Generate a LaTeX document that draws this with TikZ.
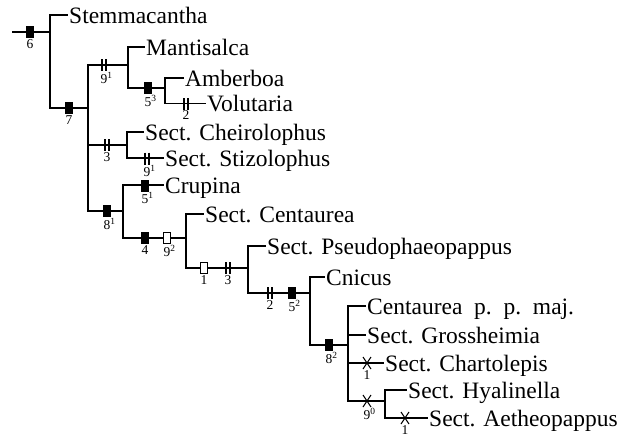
\documentclass[tikz,border=0pt]{standalone}
\usepackage{fontspec}
\setmainfont{Liberation Serif}
\begin{document}
\begin{tikzpicture}[x=1pt,y=-1pt,
  br/.style={line width=1.2pt},
  leaf/.style={anchor=west, inner sep=1pt, text height=16pt, text depth=0pt, font=\fontsize{23.5}{26}\selectfont},
  blk/.style={fill=black, minimum width=7.5pt, minimum height=12pt, inner sep=0pt},
  opn/.style={draw, fill=white, line width=0.9pt, minimum width=7pt, minimum height=11pt, inner sep=0pt},
  lbl/.style={anchor=north, inner sep=0pt, font=\fontsize{13.5}{13.5}\selectfont},
  dtick/.pic={\draw[line width=1.3pt] (-1.9,-6)--(-1.9,6) (1.9,-6)--(1.9,6);},
  xmark/.pic={\draw[line width=1pt] (-4,-6)--(4,6) (-4,6)--(4,-6);}
]
\useasboundingbox (0,0) rectangle (618,440);
% internal nodes
\coordinate (root) at (12,32);
\coordinate (n6) at (50,32);
\coordinate (n7) at (88,108);
\coordinate (n9a) at (128,65);
\coordinate (n53) at (165,88);
\coordinate (nch) at (127,145);
\coordinate (n8) at (123,211);
\coordinate (n492) at (186,238);
\coordinate (n13) at (248,268);
\coordinate (n52) at (310,293);
\coordinate (n82) at (348,345);
\coordinate (n90) at (385,401);
% leaves
\node[leaf] (stem) at (68,15) {Stemmacantha};
\node[leaf] (mant) at (145,47) {Mantisalca};
\node[leaf] (ambe) at (184,78) {Amberboa};
\node[leaf] (volu) at (206,103.5) {Volutaria};
\node[leaf] (chei) at (144,132) {Sect. Cheirolophus};
\node[leaf] (stiz) at (164,158) {Sect. Stizolophus};
\node[leaf] (crup) at (164,185) {Crupina};
\node[leaf] (cent) at (204,214) {Sect. Centaurea};
\node[leaf] (pseu) at (266,246) {Sect. Pseudophaeopappus};
\node[leaf] (cnic) at (325,277) {Cnicus};
\node[leaf] (cepp) at (366,306) {Centaurea\hspace{0.5em}p.\hspace{0.5em}p.\hspace{0.5em}maj.};
\node[leaf] (gros) at (366,335) {Sect. Grossheimia};
\node[leaf] (char) at (384,363) {Sect. Chartolepis};
\node[leaf] (hyal) at (407,390) {Sect. Hyalinella};
\node[leaf] (aeth) at (428,418) {Sect. Aetheopappus};
% branches
\draw[br] (root) -- (n6);
\draw[br] (n6) |- (stem.west);
\draw[br] (n6) |- (n7);
\draw[br] (n7) |- (n9a);
\draw[br] (n7) |- (nch);
\draw[br] (n7) |- (n8);
\draw[br] (n9a) |- (mant.west);
\draw[br] (n9a) |- (n53);
\draw[br] (n53) |- (ambe.west);
\draw[br] (n53) |- (volu.west);
\draw[br] (nch) |- (chei.west);
\draw[br] (nch) |- (stiz.west);
\draw[br] (n8) |- (crup.west);
\draw[br] (n8) |- (n492);
\draw[br] (n492) |- (cent.west);
\draw[br] (n492) |- (n13);
\draw[br] (n13) |- (pseu.west);
\draw[br] (n13) |- (n52);
\draw[br] (n52) |- (cnic.west);
\draw[br] (n52) |- (n82);
\draw[br] (n82) |- (cepp.west);
\draw[br] (n82) |- (gros.west);
\draw[br] (n82) |- (char.west);
\draw[br] (n82) |- (n90);
\draw[br] (n90) |- (hyal.west);
\draw[br] (n90) |- (aeth.west);
% character marks
\node[blk] (m6) at (30,32) {};
\node[lbl] at (30,39) {6};
\node[blk] (m7) at (69,108) {};
\node[lbl] at (69,115) {7};
\pic at (104,65) {dtick};
\node[lbl] at (104,72) {9\rlap{\textsuperscript{1}}};
\node[blk] (m53) at (148,88) {};
\node[lbl] at (148,95) {5\rlap{\textsuperscript{3}}};
\pic at (186,104) {dtick};
\node[lbl] at (186,110) {2};
\pic at (107,145) {dtick};
\node[lbl] at (107,152) {3};
\pic at (147,158.5) {dtick};
\node[lbl] at (147,165) {9\rlap{\textsuperscript{1}}};
\node[blk] (m81) at (107,211) {};
\node[lbl] at (107,218) {8\rlap{\textsuperscript{1}}};
\node[blk] (m51) at (145,185.5) {};
\node[lbl] at (145,192) {5\rlap{\textsuperscript{1}}};
\node[blk] (m4) at (145,238) {};
\node[lbl] at (145,245) {4};
\node[opn] (m92) at (167,238) {};
\node[lbl] at (167,245) {9\rlap{\textsuperscript{2}}};
\node[opn] (m1a) at (204,268) {};
\node[lbl] at (204,275) {1};
\pic at (228,268) {dtick};
\node[lbl] at (228,275) {3};
\pic at (270,293) {dtick};
\node[lbl] at (270,300) {2};
\node[blk] (m52) at (292,293) {};
\node[lbl] at (292,300) {5\rlap{\textsuperscript{2}}};
\node[blk] (m82) at (329,345) {};
\node[lbl] at (329,352) {8\rlap{\textsuperscript{2}}};
\pic at (367,363) {xmark};
\node[lbl] at (367,370) {1};
\pic at (367,401) {xmark};
\node[lbl] at (367,408) {9\rlap{\textsuperscript{0}}};
\pic at (405,418) {xmark};
\node[lbl] at (405,425) {1};
\end{tikzpicture}
\end{document}
